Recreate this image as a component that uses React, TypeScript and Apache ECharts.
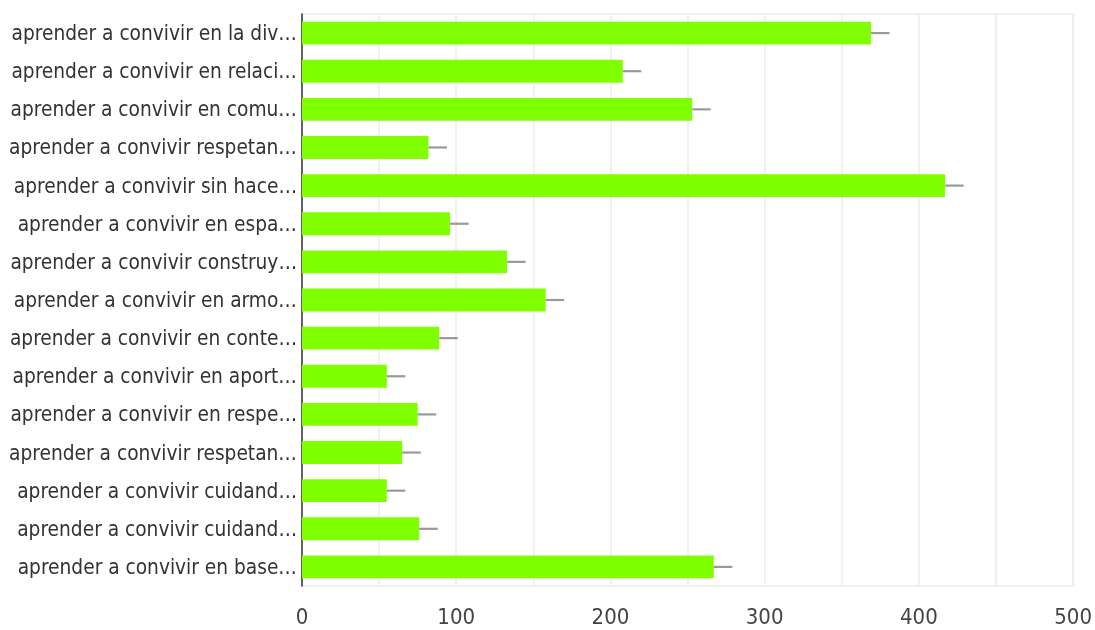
import React, { useEffect, useRef } from "react";
import * as echarts from "echarts";

const categories = [
  "aprender a convivir en la div…",
  "aprender a convivir en relaci…",
  "aprender a convivir en comu…",
  "aprender a convivir respetan…",
  "aprender a convivir sin hace…",
  "aprender a convivir en espa…",
  "aprender a convivir construy…",
  "aprender a convivir en armo…",
  "aprender a convivir en conte…",
  "aprender a convivir en aport…",
  "aprender a convivir en respe…",
  "aprender a convivir respetan…",
  "aprender a convivir cuidand…",
  "aprender a convivir cuidand…",
  "aprender a convivir en base…",
];
const values = [369, 208, 253, 82, 417, 96, 133, 158, 89, 55, 75, 65, 55, 76, 267];
const errors = [12, 12, 12, 12, 12, 12, 12, 12, 12, 12, 12, 12, 12, 12, 12];
const xTicks = [0, 100, 200, 300, 400, 500];

const FONT = "'DejaVu Sans Condensed', 'Roboto', sans-serif";

export default function App() {
  const ref = useRef<HTMLDivElement>(null);
  useEffect(() => {
    if (!ref.current) return;
    const chart = echarts.init(ref.current, null, { renderer: "svg" });
    const errData = values.map((v, i) => [v, i, errors[i]]);
    chart.setOption({
      animation: false,
      grid: {
        left: 302,
        right: 20,
        top: 14,
        bottom: 44,
        containLabel: false,
        show: true,
        borderColor: "#ececec",
        borderWidth: 1.5,
      },
      xAxis: {
        type: "value",
        min: 0,
        max: 500,
        interval: 50,
        axisLine: { show: false },
        axisTick: { show: false },
        splitLine: { show: true, lineStyle: { color: "#ececec", width: 1.5 } },
        axisLabel: {
          color: "#444",
          fontSize: 22,
          fontFamily: FONT,
          margin: 19,
          formatter: (v: number) => (xTicks.includes(v) ? String(v) : ""),
        },
      },
      yAxis: {
        type: "category",
        data: categories,
        inverse: true,
        axisLine: { show: true, lineStyle: { color: "#333", width: 1.5 } },
        axisTick: { show: false },
        splitLine: { show: false },
        axisLabel: {
          color: "#333",
          fontSize: 20.7,
          fontFamily: FONT,
          margin: 5,
        },
      },
      series: [
        {
          type: "bar",
          data: values,
          barCategoryGap: "40%",
          itemStyle: { color: "#7fff00" },
          z: 2,
        },
        {
          type: "custom",
          data: errData,
          z: 3,
          renderItem: (params: any, api: any) => {
            const v = api.value(0);
            const c = api.value(1);
            const e = api.value(2);
            const p1 = api.coord([v, c]);
            const p2 = api.coord([v + e, c]);
            return {
              type: "line",
              shape: { x1: p1[0], y1: p1[1], x2: p2[0], y2: p2[1] },
              style: { stroke: "#999", lineWidth: 2.2 },
            };
          },
        },
      ],
    });
    return () => chart.dispose();
  }, []);
  return (
    <div
      ref={ref}
      style={{ position: "fixed", left: 0, top: 0, width: 1095, height: 630 }}
    />
  );
}
